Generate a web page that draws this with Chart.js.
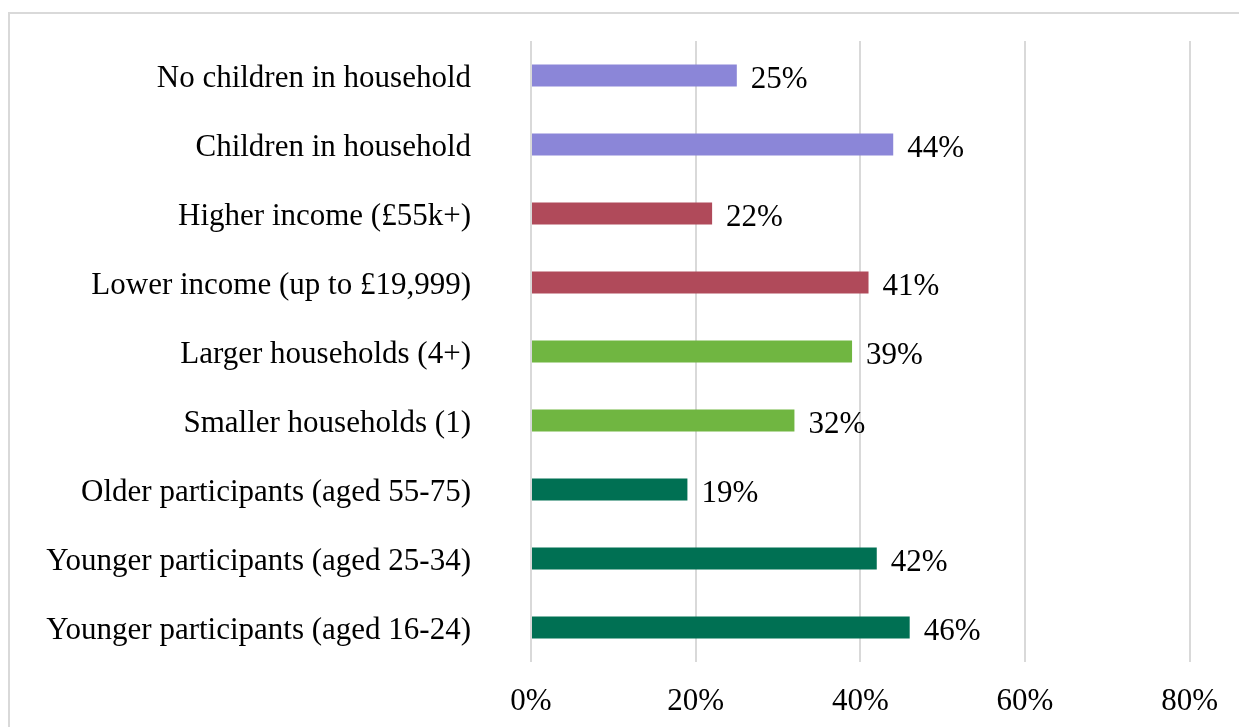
<!DOCTYPE html>
<html>
<head>
<meta charset="utf-8">
<script src="https://cdn.jsdelivr.net/npm/chart.js@4"></script>
<style>
  html, body { margin: 0; padding: 0; background: #fff; overflow: hidden; }
  #wrap { position: relative; width: 1239px; height: 727px; }
  #frame { position: absolute; left: 8px; top: 12px; width: 1300px; height: 800px; border: 2px solid #d9d9d9; box-sizing: border-box; }
  canvas { position: absolute; left: 0; top: 0; }
</style>
</head>
<body>
<div id="wrap">
  <div id="frame"></div>
  <canvas id="barChart" width="1239" height="727"></canvas>
</div>
<script>
// data, top to bottom
const categories = [
  'No children in household',
  'Children in household',
  'Higher income (£55k+)',
  'Lower income (up to £19,999)',
  'Larger households (4+)',
  'Smaller households (1)',
  'Older participants (aged 55-75)',
  'Younger participants (aged 25-34)',
  'Younger participants (aged 16-24)'
];
const values = [25, 44, 22, 41, 39, 32, 19, 42, 46];
const barColors = ['#8b86d8', '#8b86d8', '#b04a5a', '#b04a5a', '#70b641', '#70b641', '#007053', '#007053', '#007053'];
const xTicks = [0, 20, 40, 60, 80];

const FONT = '"Liberation Serif", "Times New Roman", serif';
const FONT_SIZE = 31;

// value labels at the end of each bar
const valueLabels = {
  id: 'valueLabels',
  afterDatasetsDraw(chart) {
    const ctx = chart.ctx;
    const meta = chart.getDatasetMeta(0);
    ctx.save();
    ctx.font = FONT_SIZE + 'px ' + FONT;
    ctx.fillStyle = '#000';
    ctx.textAlign = 'left';
    ctx.textBaseline = 'middle';
    meta.data.forEach(function(bar, i) {
      ctx.fillText(values[i] + '%', bar.x + 14, bar.y + 4);
    });
    ctx.restore();
  }
};

const ctx = document.getElementById('barChart').getContext('2d');
const chart = new Chart(ctx, {
  type: 'bar',
  data: {
    labels: categories,
    datasets: [{
      data: values,
      backgroundColor: barColors,
      borderWidth: 0,
      barPercentage: 0.64,
      categoryPercentage: 0.5
    }]
  },
  options: {
    indexAxis: 'y',
    responsive: false,
    animation: false,
    layout: { padding: { top: 41, right: 47, bottom: 0, left: 0 } },
    plugins: {
      legend: { display: false },
      tooltip: { enabled: false }
    },
    scales: {
      x: {
        min: 0,
        max: 80,
        afterBuildTicks(axis) { axis.ticks = xTicks.map(v => ({ value: v })); },
        afterFit(axis) { axis.height = 65; },
        grid: { color: '#d9d9d9', lineWidth: 2, drawTicks: false },
        border: { display: false },
        ticks: {
          padding: 21,
          color: '#000',
          font: { family: FONT, size: FONT_SIZE },
          callback: v => v + '%'
        }
      },
      y: {
        afterFit(axis) {
          axis.width = 531;
          // tick padding would otherwise push the plot area down
          axis.paddingTop = 0;
          axis.paddingBottom = 0;
        },
        grid: { display: false, drawTicks: false },
        border: { display: false },
        ticks: {
          padding: 60,
          labelOffset: 3,
          color: '#000',
          font: { family: FONT, size: FONT_SIZE }
        }
      }
    }
  },
  plugins: [valueLabels]
});
</script>
</body>
</html>
